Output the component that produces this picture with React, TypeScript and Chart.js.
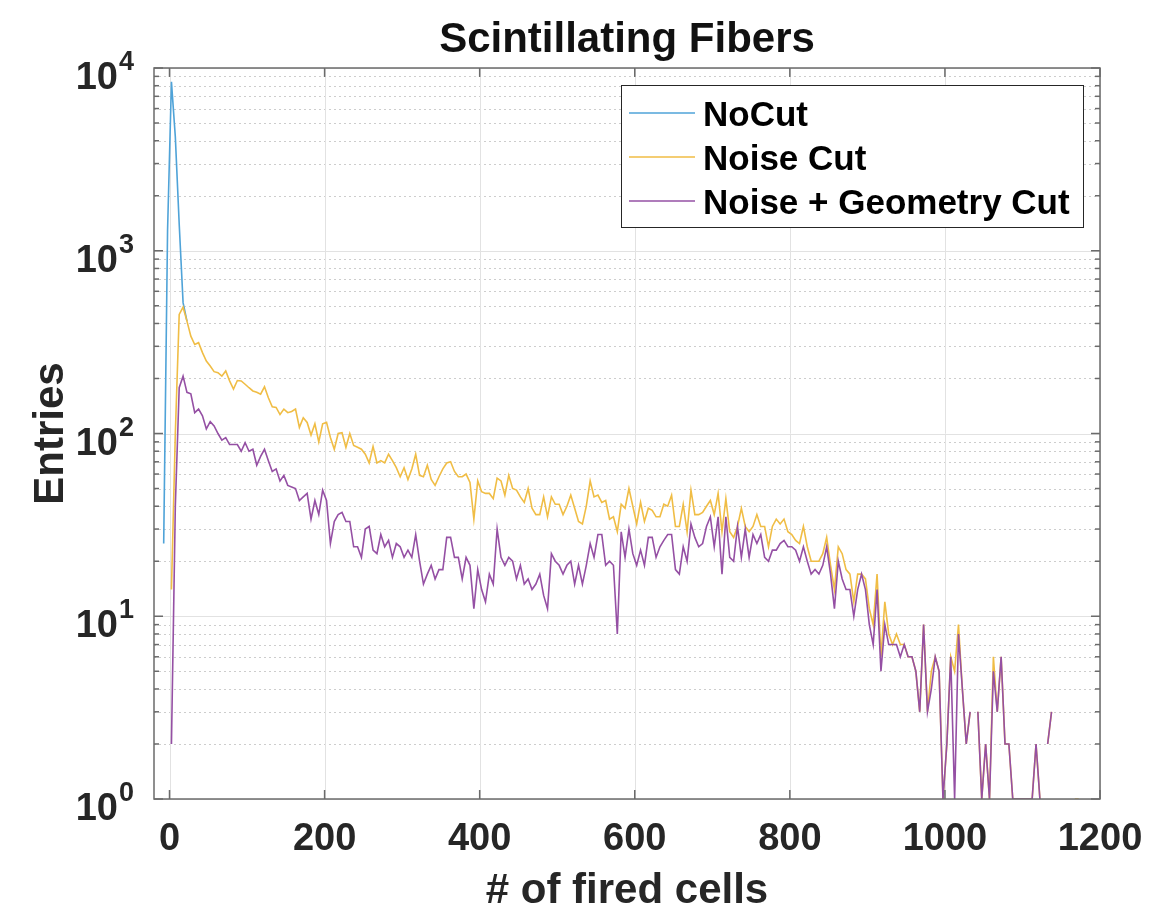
import React, { useEffect, useRef } from "react";
import { Chart, registerables } from "chart.js";

Chart.register(...registerables);

// ---------- data ----------
const BIN_START = -7.5; // centre of first histogram bin
const BIN_WIDTH = 5;

const TITLE = "Scintillating Fibers";
const X_LABEL = "# of fired cells";
const Y_LABEL = "Entries";
const SERIES_LABELS = ["NoCut", "Noise Cut", "Noise + Geometry Cut"];
const SERIES_COLORS = ["#4fa3d8", "#f0bd45", "#9550a4"];

const X_TICKS = [0, 200, 400, 600, 800, 1000, 1200];
const Y_TICK_EXPONENTS = [0, 1, 2, 3, 4];

// NoCut: only visible where it differs from Noise Cut (first bins)
const noCut = [25, 1300, 8400, 4200, 1400, 520, 412];

const noiseCut = [
  null, null, 14, 100, 448, 491, 412, 341, 307, 314,
  277, 249, 234, 218, 215, 206, 220, 194, 175, 195,
  194, 186, 178, 171, 168, 164, 180, 157, 140, 139,
  127, 136, 130, 132, 136, 108, 122, 115, 98, 113,
  90, 113, 115, 95, 82, 100, 101, 84, 100, 86,
  84, 82, 77, 69, 85, 69, 71, 69, 77, 71,
  65, 58, 65, 56, 64, 77, 59, 58, 67, 56,
  52, 58, 64, 69, 70, 62, 58, 58, 60, 54,
  34, 55, 48, 47, 47, 44, 57, 55, 46, 59,
  50, 49, 45, 42, 50, 39, 36, 36, 45, 35,
  45, 41, 41, 36, 40, 46, 39, 33, 32, 40,
  55, 45, 46, 42, 43, 34, 35, 29, 41, 39,
  50, 40, 32, 42, 33, 39, 38, 35, 35, 41,
  40, 46, 31, 31, 41, 29, 49, 36, 36, 37,
  40, 43, 36, 47, 29, 44, 29, 27, 31, 39,
  31, 29, 31, 36, 31, 31, 24, 31, 34, 32,
  34, 29, 28, 26, 25, 31, 24, 20, 20, 20,
  22, 27, 19, 14, 24, 22, 18, 17, 12, 17,
  17, 16, 11, 9, 17, 6, 12, 8, 7, 8,
  7, 7, 6, 6, 5, 3, 9, 3, 5, 6,
  5, 1, 2, 6, 5, 9, 4, 2, 3, null,
  3, 1, 2, 1, 6, 3, 6, 2, 2, 1,
  1, 1, 1, 1, 1, 2, 1, null, 2, 3,
  null, null, null, null, null, 1, 1,
];

const noiseGeometryCut = [
  null, null, 2, 40, 178, 206, 168, 165, 130, 136,
  125, 106, 116, 110, 100, 92, 95, 87, 87, 87,
  80, 89, 80, 82, 67, 75, 82, 71, 62, 64,
  55, 59, 52, 51, 50, 43, 45, 47, 34, 43,
  36, 49, 43, 25, 33, 36, 37, 33, 33, 24,
  24, 21, 30, 31, 23, 22, 28, 24, 26, 21,
  25, 24, 21, 23, 21, 28, 20, 15, 17, 19,
  16, 18, 18, 27, 27, 21, 21, 16, 21, 19,
  11, 18, 14, 12, 17, 15, 30, 21, 19, 21,
  20, 16, 19, 15, 16, 14, 15, 17, 13, 11,
  22, 20, 19, 17, 19, 20, 15, 19, 15, 19,
  25, 21, 28, 28, 19, 20, 19, 8, 29, 21,
  30, 22, 19, 23, 19, 27, 27, 21, 24, 26,
  28, 28, 18, 17, 24, 20, 32, 27, 24, 25,
  31, 35, 24, 35, 17, 35, 21, 20, 31, 21,
  30, 21, 28, 25, 28, 21, 20, 23, 23, 25,
  26, 24, 24, 23, 20, 24, 20, 17, 18, 17,
  19, 24, 17, 11, 20, 16, 14, 14, 10, 14,
  17, 14, 9, 7, 14, 5, 9, 7, 7, 7,
  6, 7, 6, 6, 5, 3, 9, 3, 4, 6,
  5, 1, 2, 6, 1, 8, 4, 2, 3, null,
  3, 1, 2, 1, 5, 3, 6, 2, 2, 1,
  1, 1, 1, 1, 1, 2, 1, null, 2, 3,
];

// ---------- layout / style ----------
const W = 1176;
const H = 922;
const FONT = "'Liberation Sans', Arial, Helvetica, sans-serif";
const TEXT = "#262626";
const AXIS = "#6b6b6b";

const toPoints = (arr: (number | null)[]) =>
  arr.map((v, i) => ({ x: BIN_START + i * BIN_WIDTH, y: v }));

const seg = (ctx: CanvasRenderingContext2D, x1: number, y1: number, x2: number, y2: number) => {
  ctx.beginPath();
  ctx.moveTo(x1, y1);
  ctx.lineTo(x2, y2);
  ctx.stroke();
};

const matlabPlugin = {
  id: "matlabAxes",
  beforeDatasetsDraw(chart: any) {
    const { ctx, chartArea: a, scales } = chart;
    const xs = scales.x;
    const ys = scales.y;
    ctx.save();
    ctx.lineWidth = 1;
    // minor y grid (dotted)
    ctx.strokeStyle = "#cdcdcd";
    ctx.setLineDash([2, 3]);
    for (let e = 0; e < 4; e++) {
      for (let m = 2; m <= 9; m++) {
        const y = Math.round(ys.getPixelForValue(m * Math.pow(10, e))) + 0.5;
        seg(ctx, a.left, y, a.right, y);
      }
    }
    ctx.setLineDash([]);
    ctx.strokeStyle = "#e2e2e2";
    for (const e of Y_TICK_EXPONENTS) {
      const y = Math.round(ys.getPixelForValue(Math.pow(10, e))) + 0.5;
      seg(ctx, a.left, y, a.right, y);
    }
    for (const v of X_TICKS) {
      const x = Math.round(xs.getPixelForValue(v)) + 0.5;
      seg(ctx, x, a.top, x, a.bottom);
    }
    ctx.restore();
  },
  afterDatasetsDraw(chart: any) {
    const { ctx, chartArea: a, scales } = chart;
    const xs = scales.x;
    const ys = scales.y;
    ctx.save();
    // axes box
    ctx.strokeStyle = AXIS;
    ctx.lineWidth = 1.5;
    ctx.strokeRect(a.left, a.top, a.right - a.left, a.bottom - a.top);
    // x ticks (bottom + top, inward)
    for (const v of X_TICKS) {
      const x = xs.getPixelForValue(v);
      seg(ctx, x, a.bottom, x, a.bottom - 9);
      seg(ctx, x, a.top, x, a.top + 9);
    }
    // y ticks
    for (let e = 0; e <= 4; e++) {
      const y = ys.getPixelForValue(Math.pow(10, e));
      seg(ctx, a.left, y, a.left + 9, y);
      seg(ctx, a.right, y, a.right - 9, y);
      if (e < 4) {
        for (let m = 2; m <= 9; m++) {
          const ym = ys.getPixelForValue(m * Math.pow(10, e));
          seg(ctx, a.left, ym, a.left + 5, ym);
          seg(ctx, a.right, ym, a.right - 5, ym);
        }
      }
    }

    // legend
    const lx = 621.5, ly = 85.5, lw = 462, lh = 142;
    ctx.fillStyle = "#ffffff";
    ctx.fillRect(lx, ly, lw, lh);
    ctx.strokeStyle = "#262626";
    ctx.lineWidth = 1;
    ctx.strokeRect(lx, ly, lw, lh);
    const rows = [113, 157, 201];
    ctx.font = `bold 35px ${FONT}`;
    ctx.textAlign = "left";
    ctx.textBaseline = "alphabetic";
    SERIES_LABELS.forEach((label, i) => {
      ctx.strokeStyle = SERIES_COLORS[i];
      ctx.lineWidth = 1.6;
      seg(ctx, 629, rows[i], 695, rows[i]);
      ctx.fillStyle = "#000000";
      ctx.fillText(label, 703, rows[i] + 12.5);
    });

    // x tick labels
    ctx.fillStyle = TEXT;
    ctx.font = `bold 38px ${FONT}`;
    ctx.textAlign = "center";
    for (const v of X_TICKS) {
      ctx.fillText(String(v), xs.getPixelForValue(v), a.bottom + 51);
    }
    // y tick labels 10^e
    for (const e of Y_TICK_EXPONENTS) {
      const y = ys.getPixelForValue(Math.pow(10, e));
      ctx.font = `bold 38px ${FONT}`;
      ctx.textAlign = "right";
      ctx.fillText("10", 118, y + 21);
      ctx.font = `bold 27px ${FONT}`;
      ctx.textAlign = "left";
      ctx.fillText(String(e), 119, y + 2);
    }
    // axis titles
    ctx.font = `bold 42px ${FONT}`;
    ctx.textAlign = "center";
    ctx.fillText(X_LABEL, (a.left + a.right) / 2, 903);
    ctx.save();
    ctx.translate(63, (a.top + a.bottom) / 2);
    ctx.rotate(-Math.PI / 2);
    ctx.fillText(Y_LABEL, 0, 0);
    ctx.restore();
    // title
    ctx.fillStyle = "#111111";
    ctx.fillText(TITLE, (a.left + a.right) / 2, 52);
    ctx.restore();
  },
};

export default function App() {
  const canvasRef = useRef<HTMLCanvasElement | null>(null);

  useEffect(() => {
    document.body.style.margin = "0";
    const canvas = canvasRef.current;
    if (!canvas) return;
    const mk = (i: number, arr: (number | null)[], order: number) => ({
      label: SERIES_LABELS[i],
      data: toPoints(arr),
      borderColor: SERIES_COLORS[i],
      backgroundColor: SERIES_COLORS[i],
      borderWidth: 1.6,
      pointRadius: 0,
      tension: 0,
      spanGaps: false,
      order,
    });
    const chart = new Chart(canvas, {
      type: "line",
      data: {
        datasets: [
          mk(0, noCut, 3),
          mk(1, noiseCut, 2),
          mk(2, noiseGeometryCut, 1),
        ],
      },
      options: {
        responsive: false,
        animation: false,
        devicePixelRatio: 1,
        parsing: true,
        layout: { padding: { top: 68, right: 76, left: 0, bottom: 0 } },
        plugins: {
          legend: { display: false },
          tooltip: { enabled: false },
          title: { display: false },
        },
        scales: {
          x: {
            type: "linear",
            min: -20,
            max: 1200,
            grid: { display: false },
            border: { display: false },
            ticks: { display: false },
            afterFit: (s: any) => {
              s.height = 123;
            },
          },
          y: {
            type: "logarithmic",
            min: 1,
            max: 10000,
            grid: { display: false },
            border: { display: false },
            ticks: { display: false },
            afterFit: (s: any) => {
              s.width = 154;
            },
          },
        },
      } as any,
      plugins: [matlabPlugin],
    });
    return () => chart.destroy();
  }, []);

  return (
    <div style={{ width: W, height: H, background: "#ffffff" }}>
      <canvas ref={canvasRef} width={W} height={H} style={{ width: W, height: H, display: "block" }} />
    </div>
  );
}
